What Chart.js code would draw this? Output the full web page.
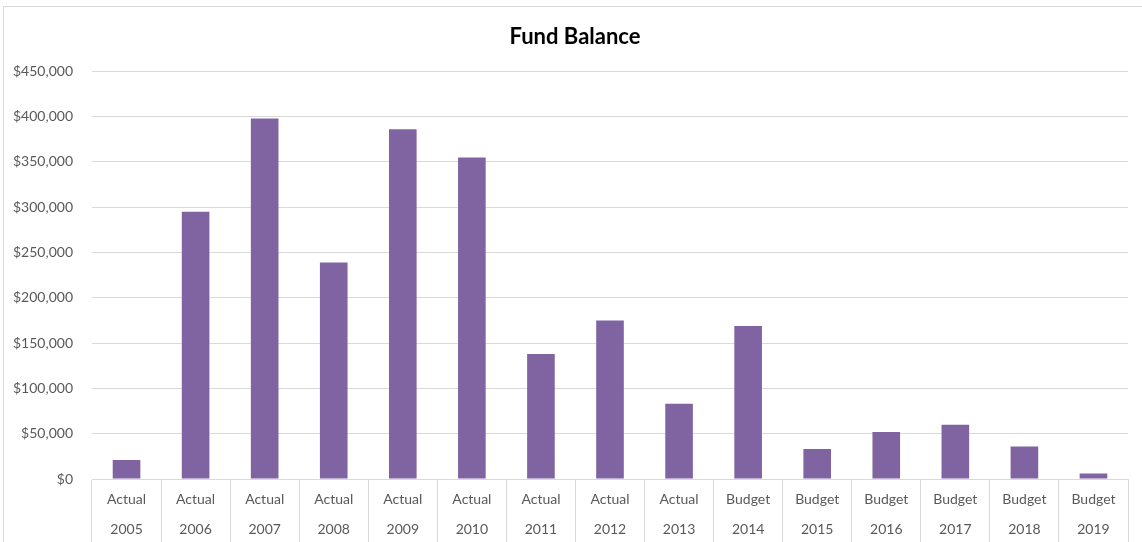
<!DOCTYPE html>
<html>
<head>
<meta charset="utf-8">
<script src="https://cdn.jsdelivr.net/npm/chart.js@4.4.1/dist/chart.umd.min.js"></script>
<style>
  html, body { margin: 0; padding: 0; background: #fff; overflow: hidden; }
  #wrap { position: absolute; left: 3px; top: 6px; width: 1150px; height: 560px; border: 1px solid #d9d9d9; }
  canvas { display: block; }
</style>
</head>
<body>
<div id="wrap"><canvas id="fundChart" width="1142" height="536"></canvas></div>
<script>
// data
const kinds = ['Actual', 'Actual', 'Actual', 'Actual', 'Actual', 'Actual', 'Actual', 'Actual', 'Actual',
               'Budget', 'Budget', 'Budget', 'Budget', 'Budget', 'Budget'];
const years = ['2005', '2006', '2007', '2008', '2009', '2010', '2011', '2012', '2013',
               '2014', '2015', '2016', '2017', '2018', '2019'];
const balances = [21000, 295000, 398000, 239000, 386000, 355000, 138000, 175000, 83000,
                  169000, 33000, 52000, 60000, 36000, 6000];
const yTicks = [0, 50000, 100000, 150000, 200000, 250000, 300000, 350000, 400000, 450000];

const labels = kinds.map((k, i) => [k, years[i]]);
const gridGray = '#d9d9d9';
const textGray = '#595959';

// the left padding only centres the title; let the y labels use that space too
const widenYLabels = {
  id: 'widenYLabels',
  afterLayout(chart) { chart.scales.y.left = 0; }
};

const ctx = document.getElementById('fundChart').getContext('2d');
const fundChart = new Chart(ctx, {
  type: 'bar',
  data: {
    labels: labels,
    datasets: [{
      label: 'Fund Balance',
      data: balances,
      backgroundColor: '#8064a2',
      borderWidth: 0,
      barPercentage: 0.4,
      categoryPercentage: 1
    }]
  },
  plugins: [widenYLabels],
  options: {
    responsive: false,
    animation: false,
    layout: { padding: { left: 18, right: 18, top: 0, bottom: 0 } },
    plugins: {
      legend: { display: false },
      tooltip: { enabled: false },
      title: {
        display: true,
        text: 'Fund Balance',
        color: '#000',
        font: { family: 'Lato', size: 22, weight: 'bold', lineHeight: 1.2 },
        padding: { top: 17, bottom: 21 }
      }
    },
    scales: {
      x: {
        grid: {
          offset: true,
          drawOnChartArea: false,
          drawTicks: true,
          tickLength: 80,
          color: gridGray
        },
        border: { display: true, color: gridGray },
        ticks: {
          color: textGray,
          padding: -75,
          maxRotation: 0,
          autoSkip: false,
          font: { family: 'Lato', size: 14, lineHeight: '30px' }
        },
        afterFit: (scale) => { scale.height = 64; }
      },
      y: {
        min: 0,
        max: 450000,
        afterBuildTicks: (scale) => { scale.ticks = yTicks.map(v => ({ value: v })); },
        grid: { color: gridGray, drawTicks: false },
        border: { display: false },
        ticks: {
          color: textGray,
          padding: 19,
          font: { family: 'Lato', size: 14 },
          callback: (v) => '$' + Number(v).toLocaleString('en-US')
        },
        afterFit: (scale) => { scale.width = 70; }
      }
    }
  }
});
</script>
</body>
</html>
